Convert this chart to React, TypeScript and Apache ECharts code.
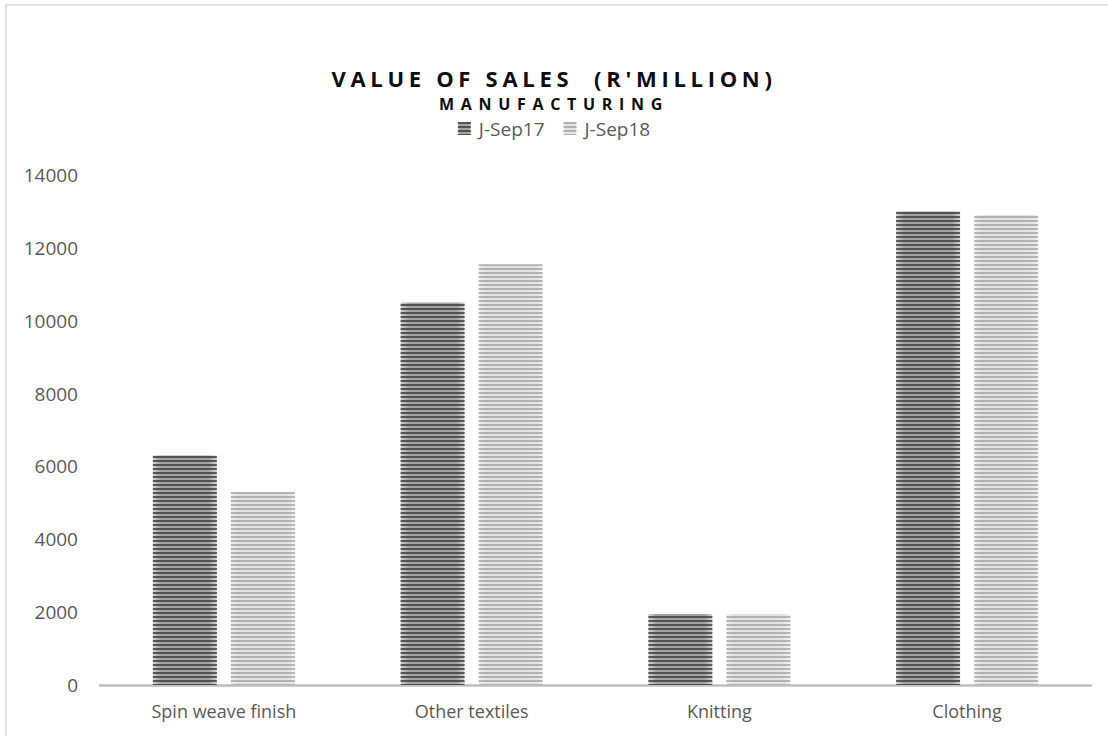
import React, { useEffect, useRef } from "react";
import * as echarts from "echarts";

const categories = ["Spin weave finish", "Other textiles", "Knitting", "Clothing"];
const sep17 = [6300, 10500, 1950, 13000];
const sep18 = [5300, 11550, 1950, 12900];
const seriesNames = ["J-Sep17", "J-Sep18"];
const titleText = "VALUE OF SALES  (R'MILLION)";
const subtitleText = "MANUFACTURING";

const FONT = "'Open Sans', sans-serif";

function grad(edge: string, mid: string) {
  return new echarts.graphic.LinearGradient(0, 0, 1, 0, [
    { offset: 0, color: edge },
    { offset: 0.12, color: mid },
    { offset: 0.88, color: mid },
    { offset: 1, color: edge },
  ]);
}

export default function App() {
  const ref = useRef<HTMLDivElement>(null);
  useEffect(() => {
    const el = ref.current!;
    const chart = echarts.init(el, undefined, { renderer: "svg" });
    const option: any = {
      animation: false,
      backgroundColor: "#ffffff",
      title: [
        {
          text: titleText,
          left: "center",
          top: 62,
          textStyle: { fontFamily: FONT, fontSize: 22, fontWeight: "bold", color: "#0d0d0d" },
        },
        {
          text: subtitleText,
          left: "center",
          top: 91,
          textStyle: { fontFamily: FONT, fontSize: 16, fontWeight: "bold", color: "#0d0d0d" },
        },
      ],
      legend: {
        data: seriesNames,
        top: 114,
        left: "center",
        icon: "rect",
        itemWidth: 13,
        itemHeight: 13,
        itemGap: 19,
        itemStyle: { borderWidth: 0 },
        textStyle: { fontFamily: FONT, fontSize: 19, color: "#595959", padding: [0, 0, 0, 3] },
      },
      graphic: [
        {
          type: "rect",
          shape: { x: 6, y: 5, width: 1120, height: 760 },
          style: { fill: "none", stroke: "#d9d9d9", lineWidth: 1.5 },
          silent: true,
          z: -10,
        },
      ],
      grid: { left: 100, right: 17, top: 175, bottom: 51, containLabel: false },
      xAxis: {
        type: "category",
        data: categories,
        axisLine: { lineStyle: { color: "#bfbfbf", width: 2.5 } },
        axisTick: { show: false },
        axisLabel: { fontFamily: FONT, fontSize: 18, color: "#595959", margin: 17 },
      },
      yAxis: {
        type: "value",
        min: 0,
        max: 14000,
        interval: 2000,
        axisLine: { show: false },
        axisTick: { show: false },
        splitLine: { show: false },
        axisLabel: {
          fontFamily: FONT,
          fontSize: 19,
          color: "#595959",
          margin: 22,
          formatter: (v: number) => String(v),
        },
      },
      series: [
        {
          name: seriesNames[0],
          type: "bar",
          data: sep17,
          barWidth: 64,
          barGap: "22%",
          itemStyle: {
            color: grad("#d4d4d4", "#a3a3a3"),
            decal: {
              symbol: "rect",
              symbolSize: 1,
              dashArrayX: [1, 0],
              dashArrayY: [2, 1.7],
              color: "rgba(60,60,60,0.8)",
              rotation: 0,
            },
          },
        },
        {
          name: seriesNames[1],
          type: "bar",
          data: sep18,
          barWidth: 64,
          barGap: "22%",
          itemStyle: {
            color: grad("#f2f2f2", "#e3e3e3"),
            decal: {
              symbol: "rect",
              symbolSize: 1,
              dashArrayX: [1, 0],
              dashArrayY: [2, 1.7],
              color: "rgba(150,150,150,0.65)",
              rotation: 0,
            },
          },
        },
      ],
    };
    chart.setOption(option);
    const applySpacing = () => {
      const texts = el.querySelectorAll("text");
      texts.forEach((t) => {
        const s = t.textContent || "";
        if (s === titleText) t.setAttribute("letter-spacing", "4.7");
        else if (s === subtitleText) t.setAttribute("letter-spacing", "6.7");
      });
    };
    applySpacing();
    chart.on("finished", applySpacing);
    return () => {
      chart.dispose();
    };
  }, []);
  return (
    <div
      ref={ref}
      style={{ position: "absolute", left: 0, top: 0, width: 1108, height: 736 }}
    />
  );
}
